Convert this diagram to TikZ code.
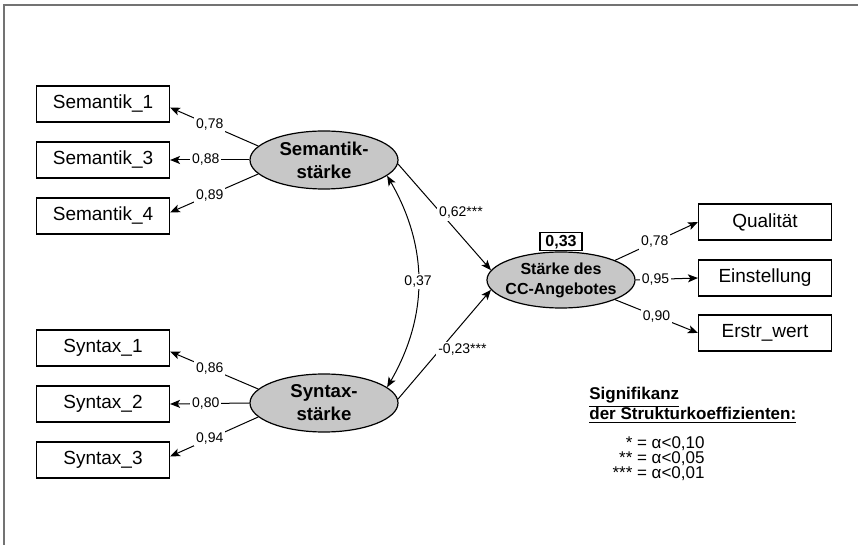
\documentclass[tikz,border=0pt]{standalone}
\usepackage{fontspec}
\setmainfont{Liberation Sans}
\usetikzlibrary{shapes.geometric,arrows.meta}

\newlength{\du}
\setlength{\du}{0.5pt}

\definecolor{framecolor}{rgb}{0.450000, 0.450000, 0.450000}
\definecolor{latentfill}{rgb}{0.780000, 0.780000, 0.780000}

\tikzset{
  manifest/.style={draw, line width=0.55pt, minimum width=133\du, minimum height=36\du,
    inner sep=0pt, font=\fontsize{9.5}{11}\selectfont},
  latent/.style={ellipse, draw, line width=0.6pt, fill=latentfill, minimum width=148\du,
    minimum height=58\du, inner sep=0pt, align=center,
    font=\bfseries\fontsize{9.3}{11.5}\selectfont},
  loading/.style={fill=white, inner sep=1pt, font=\fontsize{7}{8}\selectfont},
  tip/.tip={Stealth[length=5pt, width=4pt, inset=1.2pt]},
  arrowline/.style={-tip, line width=0.5pt},
}

\begin{document}
\begin{tikzpicture}
\pgftransformxscale{1.000000}
\pgftransformyscale{-1.000000}
\useasboundingbox (0\du,0\du) rectangle (858\du,545\du);
% frame
\draw[framecolor, line width=1pt] (858\du,5\du)--(4\du,5\du)--(4\du,545\du);
% exogenous constructs
\node[latent] (sem) at (324\du,160\du){Semantik-\\stärke};
\node[latent] (syn) at (324\du,403\du){Syntax-\\stärke};
\node[latent, minimum height=56\du, inner xsep=-9\du, font=\bfseries\fontsize{8}{10}\selectfont] (cc) at (561\du,280\du){Stärke des\\CC-Angebotes};
\node[draw, line width=0.55pt, minimum width=42\du, minimum height=18\du, inner sep=0pt,
  anchor=south, font=\bfseries\fontsize{8}{9}\selectfont] (rsq) at (cc.north){0,33};
% indicators
\node[manifest] (sem1) at (103\du,104\du){Semantik\_1};
\node[manifest] (sem3) at (103\du,160\du){Semantik\_3};
\node[manifest] (sem4) at (103\du,216\du){Semantik\_4};
\node[manifest] (syn1) at (103\du,348\du){Syntax\_1};
\node[manifest] (syn2) at (103\du,404\du){Syntax\_2};
\node[manifest] (syn3) at (103\du,460\du){Syntax\_3};
\node[manifest] (qual) at (765\du,222\du){Qualität};
\node[manifest] (einst) at (765\du,278\du){Einstellung};
\node[manifest] (erstr) at (765\du,333\du){Erstr\_wert};
% loadings
\draw[arrowline] (sem.168)--node[loading, pos=.55]{0,78}(sem1.-3);
\draw[arrowline] (sem.west)--node[loading, pos=.55]{0,88}(sem3.east);
\draw[arrowline] (sem.192)--node[loading, pos=.55]{0,89}(sem4.3);
\draw[arrowline] (syn.168)--node[loading, pos=.55]{0,86}(syn1.-3);
\draw[arrowline] (syn.west)--node[loading, pos=.55]{0,80}(syn2.east);
\draw[arrowline] (syn.192)--node[loading, pos=.55]{0,94}(syn3.3);
\draw[arrowline] (cc.20)--node[loading, pos=.48]{0,78}(qual.west);
\draw[arrowline] (cc.east)--node[loading, pos=.32]{0,95}(einst.west);
\draw[arrowline] (cc.-20)--node[loading, pos=.5]{0,90}(erstr.west);
% structural paths
\draw[arrowline] (sem.-3)--node[loading, pos=.46, anchor=west, xshift=-4\du]{0,62***}(cc.172);
\draw[arrowline] (syn.3)--node[loading, pos=.45, anchor=west, xshift=-4\du]{-0,23***}(cc.188);
\draw[tip-tip, line width=0.5pt] (sem.-14) to[bend right=30] node[loading]{0,37} (syn.14);
% legend
\node[anchor=north west, align=left, inner sep=0pt, font=\bfseries\fontsize{8.5}{10}\selectfont] (sighead) at (589\du,387\du){\underline{Signifikanz}\\\underline{der Strukturkoeffizienten:}};
\node[anchor=north east, align=right, inner sep=0pt, font=\fontsize{8.5}{7.6}\selectfont] (siglevels) at (705\du,436\du){* = α<0,10\\** = α<0,05\\*** = α<0,01};
\end{tikzpicture}
\end{document}
